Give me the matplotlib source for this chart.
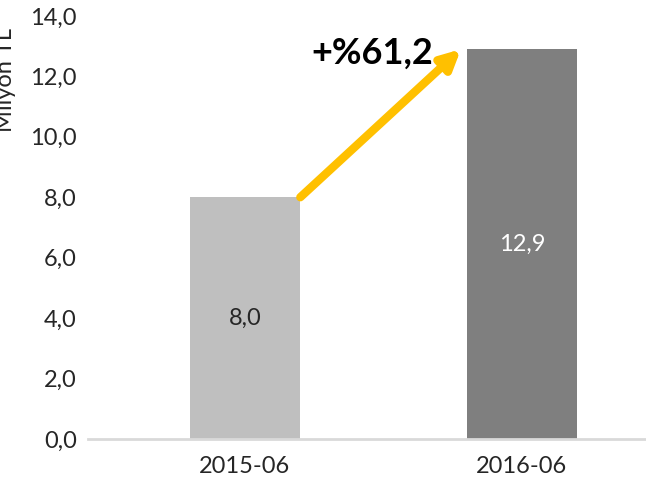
import matplotlib.pyplot as plt
import numpy as np

periods = ['2015-06', '2016-06']
values = [8.0, 12.9]
value_labels = ['8,0', '12,9']
growth_label = '+%61,2'
bar_colors = ['#BFBFBF', '#7F7F7F']
label_colors = ['#262626', 'white']

plt.rcParams['font.family'] = ['Lato', 'DejaVu Sans']

fig = plt.figure(figsize=(6.46, 4.98), dpi=100)
ax = fig.add_axes([0.136, 0.1185, 0.864, 0.8495])

x = np.arange(len(periods))
width = 0.4
ax.bar(x, values, width=width, color=bar_colors, zorder=2)

for i, v in enumerate(values):
    ax.text(x[i], v / 2, value_labels[i], ha='center', va='center',
            fontsize=17, color=label_colors[i])

# growth arrow from top of first bar to top of second bar
ax.annotate('', xy=(x[1] - width / 2 - 0.02, values[1]),
            xytext=(x[0] + width / 2, values[0]),
            arrowprops=dict(arrowstyle='-|>', color='#FFC000', lw=6,
                            mutation_scale=28, shrinkA=0, shrinkB=0), zorder=3)
ax.text(0.46, 12.75, growth_label, ha='center', va='center', fontsize=26,
        fontweight='bold', color='black', zorder=4)

ax.set_xlim(-0.567, 1.448)
ax.set_ylim(0, 14)
ticks = np.arange(0, 14.1, 2)
ax.set_yticks(ticks)
ax.set_yticklabels([f'{t:.1f}'.replace('.', ',') for t in ticks])
ax.set_xticks(x)
ax.set_xticklabels(periods)
ax.tick_params(axis='both', length=0, labelsize=17, colors='#262626')
ax.tick_params(axis='x', pad=12)
ax.tick_params(axis='y', pad=8)

for s in ['top', 'right', 'left']:
    ax.spines[s].set_visible(False)
ax.spines['bottom'].set_color('#D9D9D9')
ax.spines['bottom'].set_linewidth(2)

fig.text(0.008, 0.84, 'Milyon TL', rotation=90, ha='center', va='center',
         fontsize=17, color='#262626')

fig.savefig('out.png', dpi=100)
